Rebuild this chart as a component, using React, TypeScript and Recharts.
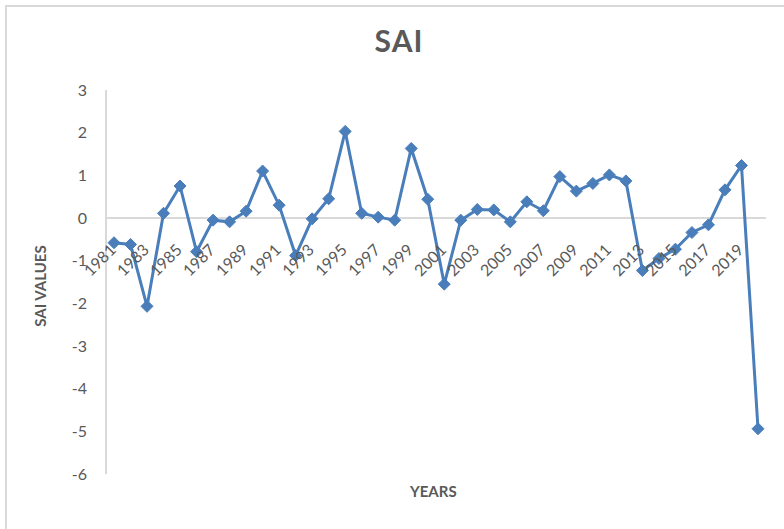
import React from "react";
import { LineChart, Line, XAxis, YAxis, ReferenceLine } from "recharts";

const years: string[] = [
  "1981","1982","1983","1984","1985","1986","1987","1988","1989","1990",
  "1991","1992","1993","1994","1995","1996","1997","1998","1999","2000",
  "2001","2002","2003","2004","2005","2006","2007","2008","2009","2010",
  "2011","2012","2013","2014","2015","2016","2017","2018","2019","2020",
];
const saiValues: number[] = [
  -0.58, -0.62, -2.07, 0.11, 0.75, -0.79, -0.05, -0.09, 0.16, 1.1,
  0.3, -0.88, -0.02, 0.45, 2.03, 0.11, 0.02, -0.05, 1.63, 0.44,
  -1.55, -0.05, 0.2, 0.19, -0.09, 0.38, 0.17, 0.97, 0.63, 0.81,
  1.01, 0.87, -1.23, -0.95, -0.73, -0.34, -0.16, 0.66, 1.23, -4.94,
];
const yTicks: number[] = [-6, -5, -4, -3, -2, -1, 0, 1, 2, 3];

const data = years.map((y, i) => ({ year: y, sai: saiValues[i] }));

const W = 784;
const H = 529;
const M_TOP = 90;
const M_BOTTOM = 55;
const PLOT_H = H - M_TOP - M_BOTTOM;
const ZERO_Y = M_TOP + (PLOT_H * 3) / 9;
const FONT = "Lato, 'Open Sans', sans-serif";
const TEXT = "#595959";
const BLUE = "#4a7ebb";

const YearTick = (props: any) => {
  const { x, index, payload } = props;
  if (index % 2 !== 0) return null;
  const px = x + 3;
  const py = ZERO_Y + 33;
  return (
    <text
      x={px}
      y={py}
      textAnchor="end"
      fontSize={16}
      fontFamily={FONT}
      fill={TEXT}
      transform={`rotate(-45, ${px}, ${py})`}
    >
      {payload.value}
    </text>
  );
};

const Diamond = (props: any) => {
  const { cx, cy } = props;
  if (cx == null || cy == null) return null;
  const r = 6;
  return (
    <polygon
      points={`${cx},${cy - r} ${cx + r},${cy} ${cx},${cy + r} ${cx - r},${cy}`}
      fill={BLUE}
      stroke={BLUE}
      strokeWidth={1}
    />
  );
};

export default function App() {
  return (
    <div
      style={{
        position: "absolute",
        left: 0,
        top: 0,
        width: W,
        height: H,
        overflow: "hidden",
        background: "#fff",
      }}
    >
      <div
        style={{
          position: "absolute",
          left: 5,
          top: 5,
          width: 800,
          height: 560,
          border: "2px solid #d9d9d9",
          boxSizing: "border-box",
        }}
      />
      <div
        style={{
          position: "absolute",
          left: 0,
          top: 22,
          width: W,
          textAlign: "center",
          paddingLeft: 14,
          boxSizing: "border-box",
          fontFamily: FONT,
          fontWeight: 700,
          fontSize: 30,
          color: TEXT,
          letterSpacing: 1,
        }}
      >
        SAI
      </div>
      <div
        style={{
          position: "absolute",
          left: 410,
          top: 482,
          fontFamily: FONT,
          fontWeight: 700,
          fontSize: 15,
          color: TEXT,
        }}
      >
        YEARS
      </div>
      <div
        style={{
          position: "absolute",
          left: 40,
          top: 286,
          transform: "translate(-50%, -50%) rotate(-90deg)",
          fontFamily: FONT,
          fontWeight: 700,
          fontSize: 15,
          color: TEXT,
          whiteSpace: "nowrap",
        }}
      >
        SAI VALUES
      </div>
      <div style={{ position: "absolute", left: 0, top: 0 }}>
        <LineChart
          width={W}
          height={H}
          data={data}
          margin={{ top: M_TOP, right: 18, bottom: 25, left: 0 }}
        >
          <XAxis
            dataKey="year"
            type="category"
            interval={0}
            axisLine={false}
            tickLine={false}
            height={30}
            padding={{ left: 8, right: 8 }}
            tick={<YearTick />}
          />
          <YAxis
            domain={[-6, 3]}
            ticks={yTicks}
            interval={0}
            width={106}
            axisLine={{ stroke: "#d9d9d9", strokeWidth: 2 }}
            tickLine={false}
            tickSize={0}
            tickMargin={19}
            tick={{ fill: TEXT, fontSize: 16, fontFamily: FONT }}
          />
          <ReferenceLine y={0} stroke="#d9d9d9" strokeWidth={2} />
          <Line
            dataKey="sai"
            stroke={BLUE}
            strokeWidth={3}
            dot={<Diamond />}
            activeDot={false}
            isAnimationActive={false}
          />
        </LineChart>
      </div>
    </div>
  );
}
